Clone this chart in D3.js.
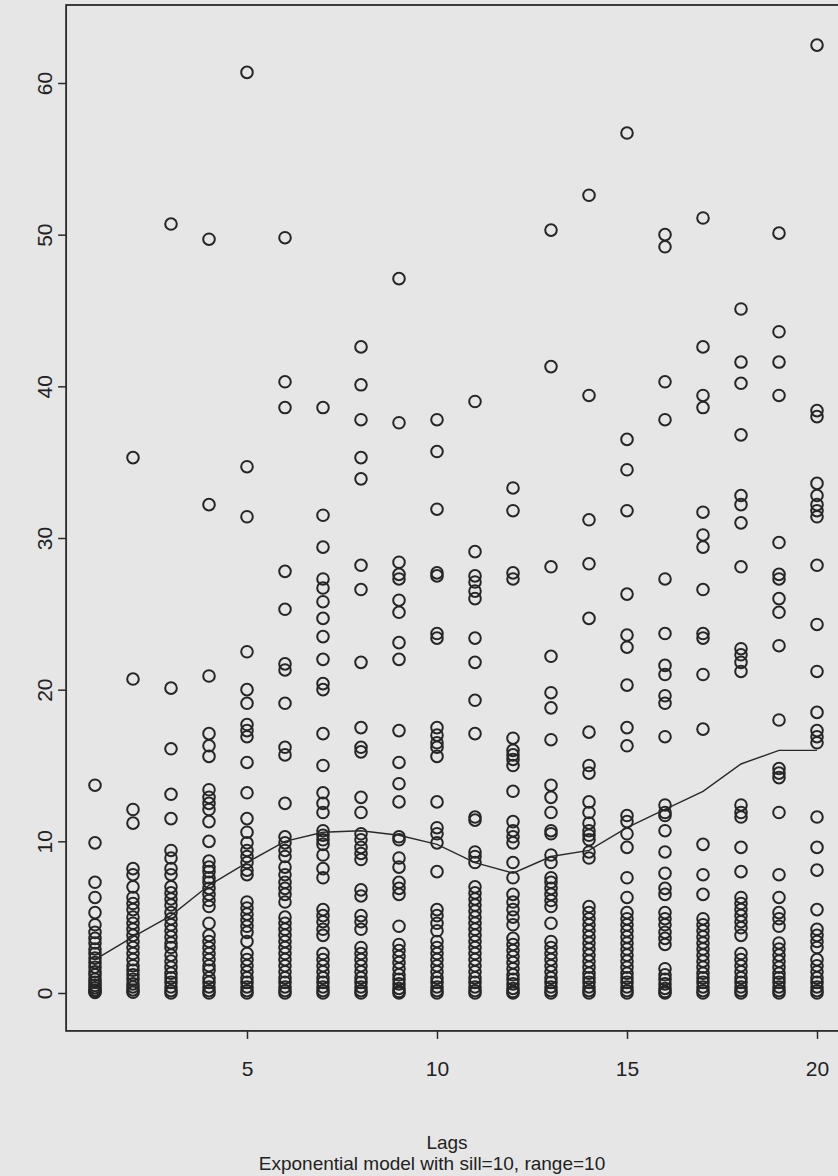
<!DOCTYPE html>
<html>
<head>
<meta charset="utf-8">
<script src="https://cdn.jsdelivr.net/npm/d3@7"></script>
<style>
  body { margin: 0; background: #e6e6e6; }
  svg { display: block; }
  text { font-family: "Liberation Sans", Arial, sans-serif; fill: #222; }
</style>
</head>
<body>
<svg width="838" height="1176"></svg>
<script>
// **** data ****
const lags = d3.range(1, 21);

const lag1 = [13.7, 9.9, 7.3, 6.3, 5.3, 4.5, 4.0, 3.6, 3.3, 2.9, 2.6, 2.3, 2.0, 1.7, 1.4, 1.2, 0.9, 0.7, 0.5, 0.35, 0.2, 0.1, 0.03];
const lag2 = [35.3, 20.7, 12.1, 11.2, 8.2, 7.8, 7.0, 6.3, 5.9, 5.5, 5.0, 4.6, 4.2, 3.8, 3.4, 3.0, 2.6, 2.2, 1.8, 1.5, 1.2, 0.9, 0.6, 0.4, 0.2, 0.05];
const lag3 = [50.7, 20.1, 16.1, 13.1, 11.5, 9.4, 8.9, 8.2, 7.8, 7.0, 6.6, 6.2, 5.8, 5.3, 4.9, 4.5, 4.1, 3.7, 3.3, 3.0, 2.5, 2.1, 1.7, 1.3, 1.0, 0.7, 0.4, 0.15, 0.0];
const lag4 = [49.7, 32.2, 20.9, 17.1, 16.3, 15.6, 13.4, 12.9, 12.5, 12.1, 11.3, 10.0, 8.7, 8.3, 8.0, 7.6, 7.3, 6.9, 6.5, 6.1, 5.7, 4.6, 3.8, 3.4, 3.0, 2.6, 2.2, 1.8, 1.5, 1.0, 0.7, 0.4, 0.15, 0.0];
const lag5 = [60.7, 34.7, 31.4, 22.5, 20.0, 19.1, 17.7, 17.3, 16.9, 15.2, 13.2, 11.5, 10.6, 9.9, 9.4, 9.0, 8.6, 8.1, 7.8, 6.0, 5.6, 5.2, 4.8, 4.4, 4.0, 3.4, 2.6, 2.2, 1.8, 1.4, 1.0, 0.7, 0.4, 0.15, 0.0];
const lag6 = [49.8, 40.3, 38.6, 27.8, 25.3, 21.7, 21.3, 19.1, 16.2, 15.7, 12.5, 10.3, 9.9, 9.4, 9.0, 8.3, 7.8, 7.3, 6.9, 6.5, 6.0, 5.0, 4.6, 4.2, 3.8, 3.4, 3.0, 2.6, 2.2, 1.8, 1.4, 1.0, 0.7, 0.4, 0.15, 0.0];
const lag7 = [38.6, 31.5, 29.4, 27.3, 26.7, 25.8, 24.7, 23.5, 22.0, 20.4, 20.0, 17.1, 15.0, 13.2, 12.5, 11.9, 10.7, 10.4, 10.1, 9.8, 9.1, 8.2, 7.6, 5.5, 5.1, 4.7, 4.2, 3.8, 2.6, 2.2, 1.8, 1.4, 1.0, 0.7, 0.4, 0.15, 0.0];
const lag8 = [42.6, 40.1, 37.8, 35.3, 33.9, 28.2, 26.6, 21.8, 17.5, 16.2, 15.9, 12.9, 11.9, 10.5, 10.1, 9.6, 9.2, 8.8, 6.8, 6.4, 5.1, 4.7, 4.2, 3.0, 2.6, 2.2, 1.8, 1.4, 1.0, 0.7, 0.4, 0.15, 0.0];
const lag9 = [47.1, 37.6, 28.4, 27.6, 27.3, 25.9, 25.1, 23.1, 22.0, 17.3, 15.2, 13.8, 12.6, 10.3, 10.1, 8.9, 8.3, 7.3, 6.9, 6.5, 4.4, 3.2, 2.8, 2.4, 2.0, 1.6, 1.2, 0.9, 0.6, 0.3, 0.1, 0.0];
const lag10 = [37.8, 35.7, 31.9, 27.7, 27.5, 23.7, 23.4, 17.5, 17.0, 16.5, 16.2, 15.6, 12.6, 10.9, 10.5, 9.9, 8.0, 5.5, 5.1, 4.6, 4.1, 3.4, 3.0, 2.6, 2.2, 1.8, 1.4, 1.0, 0.7, 0.4, 0.15, 0.0];
const lag11 = [39.0, 29.1, 27.5, 27.1, 26.5, 26.0, 23.4, 21.8, 19.3, 17.1, 11.6, 11.4, 9.3, 9.0, 8.6, 7.0, 6.6, 6.2, 5.8, 5.4, 5.0, 4.6, 4.2, 3.8, 3.4, 3.0, 2.6, 2.2, 1.8, 1.4, 1.0, 0.7, 0.4, 0.15, 0.0];
const lag12 = [33.3, 31.8, 27.7, 27.3, 16.8, 16.0, 15.7, 15.4, 15.0, 13.3, 11.3, 10.7, 10.3, 9.9, 8.6, 7.6, 6.5, 6.0, 5.5, 5.0, 4.5, 3.6, 3.2, 2.8, 2.4, 2.0, 1.6, 1.2, 0.9, 0.6, 0.3, 0.1, 0.0];
const lag13 = [50.3, 41.3, 28.1, 22.2, 19.8, 18.8, 16.7, 13.7, 12.9, 11.9, 10.7, 10.5, 9.1, 8.6, 7.6, 7.3, 6.9, 6.5, 6.1, 5.7, 4.6, 3.4, 3.0, 2.6, 2.2, 1.8, 1.4, 1.0, 0.7, 0.4, 0.15, 0.0];
const lag14 = [52.6, 39.4, 31.2, 28.3, 24.7, 17.2, 15.0, 14.5, 12.6, 11.9, 11.2, 10.7, 10.4, 10.1, 9.3, 8.9, 5.7, 5.3, 4.9, 4.5, 4.1, 3.7, 3.3, 2.9, 2.5, 2.1, 1.7, 1.3, 1.0, 0.7, 0.4, 0.15, 0.0];
const lag15 = [56.7, 36.5, 34.5, 31.8, 26.3, 23.6, 22.8, 20.3, 17.5, 16.3, 11.7, 11.3, 10.5, 9.6, 7.6, 6.3, 5.3, 4.9, 4.5, 4.1, 3.7, 3.3, 2.9, 2.5, 2.1, 1.7, 1.3, 1.0, 0.7, 0.4, 0.15, 0.0];
const lag16 = [50.0, 49.2, 40.3, 37.8, 27.3, 23.7, 21.6, 21.0, 19.6, 19.1, 16.9, 12.4, 11.9, 11.7, 10.7, 9.3, 7.9, 6.9, 6.5, 5.3, 4.9, 4.5, 4.0, 3.6, 3.2, 1.6, 1.2, 0.9, 0.6, 0.3, 0.1, 0.0];
const lag17 = [51.1, 42.6, 39.4, 38.6, 31.7, 30.2, 29.4, 26.6, 23.7, 23.4, 21.0, 17.4, 9.8, 7.8, 6.5, 4.9, 4.5, 4.1, 3.7, 3.3, 2.9, 2.5, 2.1, 1.7, 1.3, 1.0, 0.7, 0.4, 0.15, 0.0];
const lag18 = [45.1, 41.6, 40.2, 36.8, 32.8, 32.2, 31.0, 28.1, 22.7, 22.3, 21.8, 21.2, 12.4, 11.9, 11.6, 9.6, 8.0, 6.3, 5.9, 5.5, 5.1, 4.7, 4.3, 3.8, 2.6, 2.2, 1.8, 1.4, 1.0, 0.7, 0.4, 0.15, 0.0];
const lag19 = [50.1, 43.6, 41.6, 39.4, 29.7, 27.6, 27.3, 26.0, 25.1, 22.9, 18.0, 14.8, 14.5, 14.2, 11.9, 7.8, 6.3, 5.3, 4.9, 4.4, 3.3, 2.9, 2.5, 2.1, 1.7, 1.3, 1.0, 0.7, 0.4, 0.15, 0.0];
const lag20 = [62.5, 38.4, 38.0, 33.6, 32.8, 32.2, 31.8, 31.4, 28.2, 24.3, 21.2, 18.5, 17.3, 16.9, 16.5, 11.6, 9.6, 8.1, 5.5, 4.2, 3.8, 3.4, 3.0, 2.2, 1.8, 1.4, 1.0, 0.7, 0.4, 0.15, 0.0];

// smoothed mean per lag (the line)
const meanLine = [2.2, 3.7, 5.1, 7.1, 8.6, 10.0, 10.6, 10.7, 10.4, 9.8, 8.6, 7.9, 9.0, 9.4, 10.9, 12.1, 13.3, 15.1, 16.0, 16.0];

const yTicks = [0, 10, 20, 30, 40, 50, 60];
const xTicks = [5, 10, 15, 20];
const xLabel = 'Lags';
const subTitle = 'Exponential model with sill=10, range=10';

const columns = [lag1, lag2, lag3, lag4, lag5, lag6, lag7, lag8, lag9, lag10,
                 lag11, lag12, lag13, lag14, lag15, lag16, lag17, lag18, lag19, lag20];

// **** scales ****
var lagScale = d3.scaleLinear().domain([1, 20]).range([95, 817]);
var valScale = d3.scaleLinear().domain([0, 60]).range([993, 83]);

var svg = d3.select('svg');

// plot box (R style, 4% padding on each side)
const maxVal = d3.max(columns, c => d3.max(c));
const xPad = 0.04 * 19, yPad = 0.04 * maxVal;
const boxL = lagScale(1 - xPad), boxR = lagScale(20 + xPad);
const boxT = 5, boxB = valScale(-yPad);

svg.append('rect')
    .attr('x', boxL).attr('y', boxT)
    .attr('width', boxR - boxL).attr('height', boxB - boxT)
    .style('fill', 'none').style('stroke', '#2a2a2a').style('stroke-width', 1.8);

// **** points ****
columns.forEach((vals, i) => {
    svg.append('g').attr('class', 'lag-col')
        .selectAll('circle')
        .data(vals)
        .enter()
        .append('circle')
        .attr('cx', lagScale(lags[i]))
        .attr('cy', d => valScale(d))
        .attr('r', 5.8)
        .style('fill', 'none')
        .style('stroke', '#262626')
        .style('stroke-width', 2);
});

// **** line ****
svg.append('path')
    .datum(meanLine)
    .attr('d', d3.line().x((d, i) => lagScale(lags[i])).y(d => valScale(d)))
    .style('fill', 'none')
    .style('stroke', '#2a2a2a')
    .style('stroke-width', 1.4);

// **** axes ****
var yAxis = svg.append('g').attr('class', 'y axis')
    .attr('transform', `translate(${boxL},0)`)
    .call(d3.axisLeft(valScale).tickValues(yTicks).tickSize(8).tickPadding(0).tickFormat(d3.format('d')));
yAxis.select('.domain').remove();
yAxis.selectAll('line').style('stroke', '#2a2a2a').style('stroke-width', 1.5);
yAxis.selectAll('text')
    .attr('x', 0).attr('dy', 0)
    .attr('transform', `translate(-14,0) rotate(-90)`)
    .attr('text-anchor', 'middle')
    .style('font-size', '21px')
    .style('font-family', '"Liberation Sans", Arial, sans-serif')
    .style('fill', '#222');

var xAxis = svg.append('g').attr('class', 'x axis')
    .attr('transform', `translate(0,${boxB})`)
    .call(d3.axisBottom(lagScale).tickValues(xTicks).tickSize(8).tickPadding(22));
xAxis.select('.domain').remove();
xAxis.selectAll('line').style('stroke', '#2a2a2a').style('stroke-width', 1.5);
xAxis.selectAll('text')
    .style('font-size', '21px')
    .style('font-family', '"Liberation Sans", Arial, sans-serif')
    .style('fill', '#222');

svg.append('text')
    .attr('class', 'label')
    .attr('x', 447).attr('y', 1149)
    .attr('text-anchor', 'middle')
    .style('font-size', '19px')
    .text(xLabel);

svg.append('text')
    .attr('class', 'label')
    .attr('x', 432).attr('y', 1170)
    .attr('text-anchor', 'middle')
    .style('font-size', '19px')
    .text(subTitle);
</script>
</body>
</html>
